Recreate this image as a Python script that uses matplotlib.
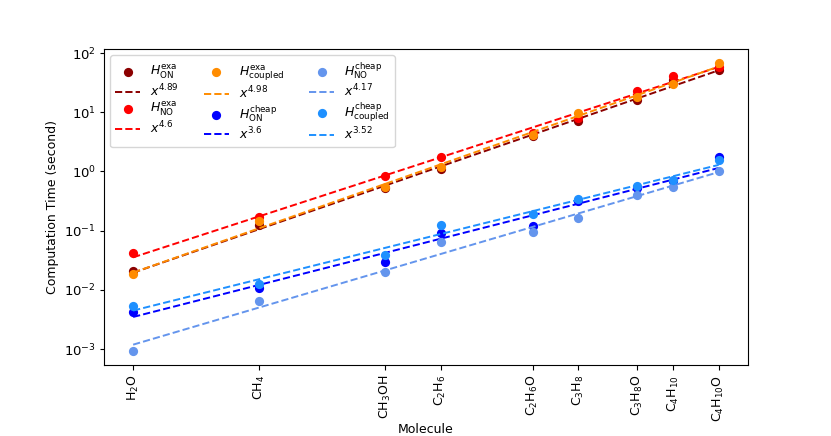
import numpy as np
import matplotlib
matplotlib.use("Agg")
import matplotlib.pyplot as plt
from matplotlib.ticker import NullLocator

plt.rcParams['font.size'] = 9

# molecules and their size (x, log scale)
molecules = [r'H$_2$O', r'CH$_4$', r'CH$_3$OH', r'C$_2$H$_6$', r'C$_2$H$_6$O',
             r'C$_3$H$_8$', r'C$_3$H$_8$O', r'C$_4$H$_{10}$', r'C$_4$H$_{10}$O']
size = [7, 9.9, 14, 16.3, 21, 23.8, 28, 30.9, 35]

# computation times (seconds)
on_exa = [0.0205, 0.124, 0.52, 1.09, 4.0, 7.0, 16.2, 35.0, 51.0]
no_exa = [0.0413, 0.170, 0.84, 1.78, 4.4, 8.0, 23.2, 41.0, 58.0]
coupled_exa = [0.0183, 0.145, 0.553, 1.205, 4.15, 9.66, 18.4, 30.0, 67.0]
on_cheap = [0.0042, 0.0106, 0.0298, 0.090, 0.121, 0.32, 0.53, 0.69, 1.74]
no_cheap = [0.00092, 0.0065, 0.0202, 0.0634, 0.0935, 0.161, 0.40, 0.54, 1.03]
coupled_cheap = [0.0054, 0.0128, 0.0387, 0.1245, 0.189, 0.339, 0.575, 0.718, 1.57]

series_vals = [on_exa, no_exa, coupled_exa, on_cheap, no_cheap, coupled_cheap]
series_labels = [r'$H_{\mathrm{ON}}^{\mathrm{exa}}$', r'$H_{\mathrm{NO}}^{\mathrm{exa}}$',
                 r'$H_{\mathrm{coupled}}^{\mathrm{exa}}$', r'$H_{\mathrm{ON}}^{\mathrm{cheap}}$',
                 r'$H_{\mathrm{NO}}^{\mathrm{cheap}}$', r'$H_{\mathrm{coupled}}^{\mathrm{cheap}}$']
exponents = [4.89, 4.6, 4.98, 3.6, 4.17, 3.52]
colors = ['darkred', 'red', 'darkorange', 'blue', 'cornflowerblue', 'dodgerblue']

fig = plt.figure(figsize=(8.31, 4.36), dpi=100)
ax = fig.add_axes([0.125, 0.163, 0.775, 0.725])

x = np.array(size, dtype=float)
lx = np.log(x)
for vals, lab, k, c in zip(series_vals, series_labels, exponents, colors):
    y = np.array(vals, dtype=float)
    ly = np.log(y)
    b = np.mean(ly - k * lx)
    ax.scatter(x, y, color=c, s=44, label=lab, zorder=2, linewidths=0)
    ax.plot(x, np.exp(b + k * lx), '--', color=c, lw=1.4,
            label=r'$x^{%s}$' % k, zorder=2)

ax.set_xscale('log')
ax.set_yscale('log')
ax.set_xticks(x)
ax.set_xticklabels(molecules, rotation=90)
ax.xaxis.set_minor_locator(NullLocator())
ax.yaxis.set_minor_locator(NullLocator())
ax.tick_params(axis='y', labelsize=9.5, length=3.2, pad=2.5)
ax.set_xlabel('Molecule', labelpad=1)
ax.set_ylabel('Computation Time (second)')
ax.set_ylim(5.4e-4, 118)
ax.legend(ncol=3, loc='upper left', labelspacing=0.12)

fig.savefig('out.png', dpi=100)
